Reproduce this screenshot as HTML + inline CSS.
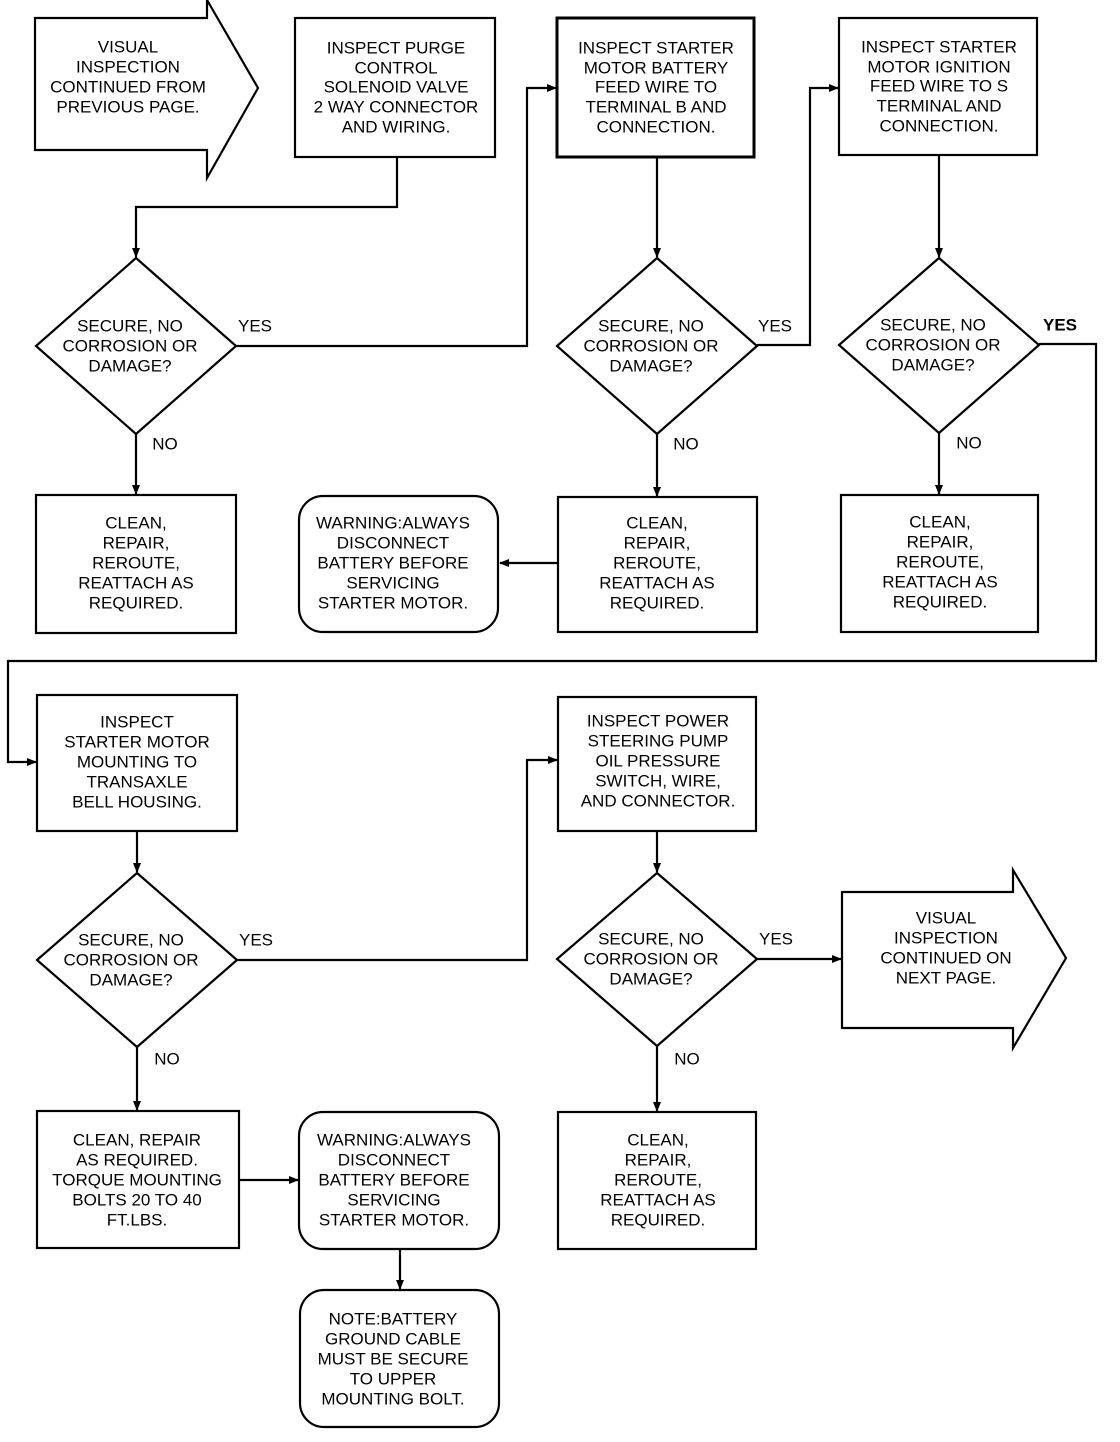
<!DOCTYPE html>
<html><head><meta charset="utf-8"><style>
html,body{margin:0;padding:0;background:#fff;}
svg{display:block;}
text{font-family:"Liberation Sans",sans-serif;font-size:17px;fill:#000;text-anchor:middle;dominant-baseline:central;}
</style></head><body>
<svg width="1120" height="1442" viewBox="0 0 1120 1442" xmlns="http://www.w3.org/2000/svg">
<defs><marker id="a" markerWidth="10" markerHeight="8" refX="9" refY="4" orient="auto" markerUnits="userSpaceOnUse"><path d="M0,0 L10,4 L0,8 z" fill="#000"/></marker></defs>
<g fill="none" stroke="#000" stroke-width="2.2">
<path d="M35,18 H207 V0 L258,88 L207,178 V150 H35 Z"/>
<rect x="295" y="18" width="200" height="139"/>
<rect x="557" y="18" width="197" height="139" stroke-width="3"/>
<rect x="839" y="18" width="198" height="137"/>
<path d="M136,258 L236,346 L136,434 L36,346 Z"/>
<path d="M657,258 L757,346 L657,434 L557,346 Z"/>
<path d="M939,258 L1039,345 L939,433 L839,345 Z"/>
<rect x="36" y="495" width="200" height="138"/>
<rect x="299" y="496" width="199" height="136" rx="24"/>
<rect x="558" y="497" width="199" height="135"/>
<rect x="841" y="495" width="197" height="137"/>
<rect x="37" y="695" width="200" height="136"/>
<rect x="558" y="697" width="198" height="134"/>
<path d="M137,873 L237,960 L137,1047 L37,960 Z"/>
<path d="M657,873 L757,959 L657,1046 L557,959 Z"/>
<path d="M842,892 H1013 V870 L1066,958 L1013,1048 V1028 H842 Z"/>
<rect x="37" y="1111" width="202" height="137"/>
<rect x="299" y="1112" width="200" height="137" rx="24"/>
<rect x="558" y="1112" width="198" height="137"/>
<rect x="300" y="1290" width="199" height="137" rx="24"/>
<path d="M397,157 V207 H136 V257" marker-end="url(#a)"/>
<path d="M236,346 H527 V88 H556" marker-end="url(#a)"/>
<path d="M657,157 V257" marker-end="url(#a)"/>
<path d="M757,345 H810 V88 H838" marker-end="url(#a)"/>
<path d="M939,155 V257" marker-end="url(#a)"/>
<path d="M1039,344 H1096 V661 H8 V762 H36" marker-end="url(#a)"/>
<path d="M136,434 V494" marker-end="url(#a)"/>
<path d="M657,434 V496" marker-end="url(#a)"/>
<path d="M939,433 V494" marker-end="url(#a)"/>
<path d="M558,563 H500" marker-end="url(#a)"/>
<path d="M137,831 V872" marker-end="url(#a)"/>
<path d="M237,960 H527 V760 H557" marker-end="url(#a)"/>
<path d="M657,831 V872" marker-end="url(#a)"/>
<path d="M757,959 H841" marker-end="url(#a)"/>
<path d="M137,1047 V1110" marker-end="url(#a)"/>
<path d="M657,1046 V1111" marker-end="url(#a)"/>
<path d="M239,1180 H298" marker-end="url(#a)"/>
<path d="M400,1249 V1289" marker-end="url(#a)"/>
</g>
<text x="128" y="47">VISUAL</text><text x="128" y="67">INSPECTION</text><text x="128" y="87">CONTINUED FROM</text><text x="128" y="107">PREVIOUS PAGE.</text>
<text x="396" y="48">INSPECT PURGE</text><text x="396" y="68">CONTROL</text><text x="396" y="87">SOLENOID VALVE</text><text x="396" y="107">2 WAY CONNECTOR</text><text x="396" y="127">AND WIRING.</text>
<text x="656" y="48">INSPECT STARTER</text><text x="656" y="68">MOTOR BATTERY</text><text x="656" y="87">FEED WIRE TO</text><text x="656" y="107">TERMINAL B AND</text><text x="656" y="127">CONNECTION.</text>
<text x="939" y="47">INSPECT STARTER</text><text x="939" y="67">MOTOR IGNITION</text><text x="939" y="86">FEED WIRE TO S</text><text x="939" y="106">TERMINAL AND</text><text x="939" y="126">CONNECTION.</text>
<text x="130" y="326">SECURE, NO</text><text x="130" y="346">CORROSION OR</text><text x="130" y="366">DAMAGE?</text>
<text x="651" y="326">SECURE, NO</text><text x="651" y="346">CORROSION OR</text><text x="651" y="366">DAMAGE?</text>
<text x="933" y="325">SECURE, NO</text><text x="933" y="345">CORROSION OR</text><text x="933" y="365">DAMAGE?</text>
<text x="255" y="326">YES</text><text x="775" y="326">YES</text><text x="1060" y="325" font-weight="bold">YES</text>
<text x="165" y="444">NO</text><text x="686" y="444">NO</text><text x="969" y="443">NO</text>
<text x="136" y="523">CLEAN,</text><text x="136" y="543">REPAIR,</text><text x="136" y="563">REROUTE,</text><text x="136" y="583">REATTACH AS</text><text x="136" y="603">REQUIRED.</text>
<text x="393" y="523">WARNING:ALWAYS</text><text x="393" y="543">DISCONNECT</text><text x="393" y="563">BATTERY BEFORE</text><text x="393" y="583">SERVICING</text><text x="393" y="603">STARTER MOTOR.</text>
<text x="657" y="523">CLEAN,</text><text x="657" y="543">REPAIR,</text><text x="657" y="563">REROUTE,</text><text x="657" y="583">REATTACH AS</text><text x="657" y="603">REQUIRED.</text>
<text x="940" y="522">CLEAN,</text><text x="940" y="542">REPAIR,</text><text x="940" y="562">REROUTE,</text><text x="940" y="582">REATTACH AS</text><text x="940" y="602">REQUIRED.</text>
<text x="137" y="722">INSPECT</text><text x="137" y="742">STARTER MOTOR</text><text x="137" y="762">MOUNTING TO</text><text x="137" y="782">TRANSAXLE</text><text x="137" y="802">BELL HOUSING.</text>
<text x="658" y="721">INSPECT POWER</text><text x="658" y="741">STEERING PUMP</text><text x="658" y="761">OIL PRESSURE</text><text x="658" y="781">SWITCH, WIRE,</text><text x="658" y="801">AND CONNECTOR.</text>
<text x="131" y="940">SECURE, NO</text><text x="131" y="960">CORROSION OR</text><text x="131" y="980">DAMAGE?</text>
<text x="651" y="939">SECURE, NO</text><text x="651" y="959">CORROSION OR</text><text x="651" y="979">DAMAGE?</text>
<text x="256" y="940">YES</text><text x="776" y="939">YES</text>
<text x="167" y="1059">NO</text><text x="687" y="1059">NO</text>
<text x="946" y="918">VISUAL</text><text x="946" y="938">INSPECTION</text><text x="946" y="958">CONTINUED ON</text><text x="946" y="978">NEXT PAGE.</text>
<text x="137" y="1140">CLEAN, REPAIR</text><text x="137" y="1160">AS REQUIRED.</text><text x="137" y="1180">TORQUE MOUNTING</text><text x="137" y="1200">BOLTS 20 TO 40</text><text x="137" y="1220">FT.LBS.</text>
<text x="394" y="1140">WARNING:ALWAYS</text><text x="394" y="1160">DISCONNECT</text><text x="394" y="1180">BATTERY BEFORE</text><text x="394" y="1200">SERVICING</text><text x="394" y="1220">STARTER MOTOR.</text>
<text x="658" y="1140">CLEAN,</text><text x="658" y="1160">REPAIR,</text><text x="658" y="1180">REROUTE,</text><text x="658" y="1200">REATTACH AS</text><text x="658" y="1220">REQUIRED.</text>
<text x="393" y="1319">NOTE:BATTERY</text><text x="393" y="1339">GROUND CABLE</text><text x="393" y="1359">MUST BE SECURE</text><text x="393" y="1379">TO UPPER</text><text x="393" y="1399">MOUNTING BOLT.</text>
</svg>
</body></html>
